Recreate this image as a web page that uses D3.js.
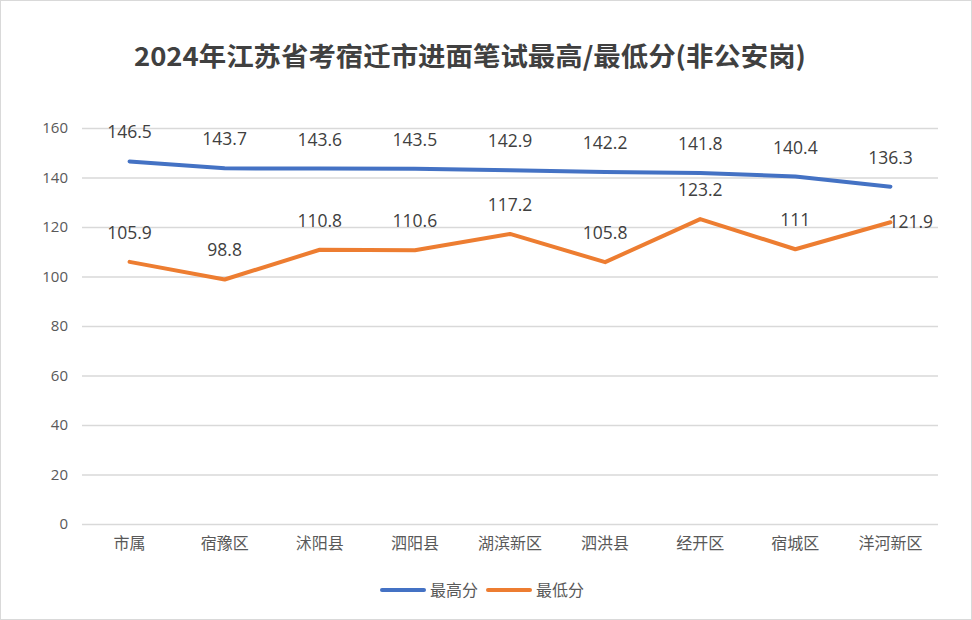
<!DOCTYPE html>
<html>
<head>
<meta charset="utf-8">
<script src="https://cdn.jsdelivr.net/npm/d3@7"></script>
<style>
  body { margin: 0; background: #fff; }
  svg { display: block; }
</style>
</head>
<body>
<div id="chart"></div>
<script>
const categories = ["市属", "宿豫区", "沭阳县", "泗阳县", "湖滨新区", "泗洪县", "经开区", "宿城区", "洋河新区"];
const maxScores = [146.5, 143.7, 143.6, 143.5, 142.9, 142.2, 141.8, 140.4, 136.3];
const minScores = [105.9, 98.8, 110.8, 110.6, 117.2, 105.8, 123.2, 111, 121.9];
const yTicks = [0, 20, 40, 60, 80, 100, 120, 140, 160];

const series = [
    { name: "最高分", values: maxScores, color: "#4472C4" },
    { name: "最低分", values: minScores, color: "#ED7D31" }
];

const width = 972, height = 620;
const margin = { top: 128, right: 34, bottom: 96, left: 82 };

const svg = d3.select("#chart").append("svg")
    .attr("width", width)
    .attr("height", height);

svg.append("rect")
    .attr("x", 0.5).attr("y", 0.5)
    .attr("width", width - 1).attr("height", height - 1)
    .attr("fill", "#fff")
    .attr("stroke", "#d9d9d9");

const x = d3.scaleBand()
    .domain(categories)
    .range([margin.left, width - margin.right]);

const y = d3.scaleLinear()
    .domain([0, 160])
    .range([height - margin.bottom, margin.top]);

// ── Title ──
svg.append("text")
    .attr("x", 470)
    .attr("y", 66)
    .attr("text-anchor", "middle")
    .attr("font-family", "'Noto Sans CJK SC', sans-serif")
    .attr("font-weight", "bold")
    .attr("font-size", 26)
    .attr("textLength", 672)
    .attr("lengthAdjust", "spacingAndGlyphs")
    .attr("fill", "#404040")
    .text("2024年江苏省考宿迁市进面笔试最高/最低分(非公安岗)");

// ── Gridlines & y axis ──
const yAxis = d3.axisLeft(y)
    .tickValues(yTicks)
    .tickSize(-(width - margin.left - margin.right))
    .tickPadding(14);

svg.append("g")
    .attr("transform", `translate(${margin.left},0)`)
    .call(yAxis)
    .call(g => g.select(".domain").remove())
    .call(g => g.selectAll(".tick line").attr("stroke", "#d9d9d9").attr("stroke-width", 1.5))
    .call(g => g.selectAll(".tick text")
        .attr("fill", "#595959")
        .attr("font-family", "'Open Sans', 'Noto Sans', sans-serif")
        .attr("font-size", 15));

// ── x axis labels ──
const xAxis = d3.axisBottom(x).tickSize(0).tickPadding(14);
svg.append("g")
    .attr("transform", `translate(0,${height - margin.bottom})`)
    .call(xAxis)
    .call(g => g.select(".domain").remove())
    .call(g => g.selectAll(".tick text")
        .attr("fill", "#595959")
        .attr("font-family", "'Noto Sans CJK SC', sans-serif")
        .attr("font-size", 16));

// ── Lines ──
const line = d3.line()
    .x((d, i) => x(categories[i]) + x.bandwidth() / 2)
    .y(d => y(d));

series.forEach(s => {
    svg.append("path")
        .datum(s.values)
        .attr("fill", "none")
        .attr("stroke", s.color)
        .attr("stroke-width", 4)
        .attr("stroke-linejoin", "round")
        .attr("stroke-linecap", "round")
        .attr("d", line);

    const isRight = i => s.name === "最低分" && i === categories.length - 1;

    svg.append("g")
        .selectAll("text")
        .data(s.values)
        .join("text")
        .attr("x", (d, i) => {
            const cx = x(categories[i]) + x.bandwidth() / 2;
            // last low-score label sits to the right of its point
            return isRight(i) ? cx - 2 : cx;
        })
        .attr("y", (d, i) => isRight(i) ? y(d) + 6 : y(d) - 23)
        .attr("text-anchor", (d, i) => isRight(i) ? "start" : "middle")
        .attr("font-family", "'Open Sans', 'Noto Sans', sans-serif")
        .attr("font-size", 17.5)
        .attr("fill", "#404040")
        .text(d => d);
});

// ── Legend ──
const legend = svg.append("g").attr("transform", "translate(382,590)");
series.forEach((s, i) => {
    const g = legend.append("g").attr("transform", `translate(${i * 106},0)`);
    g.append("line")
        .attr("x1", 0).attr("x2", 42)
        .attr("stroke", s.color)
        .attr("stroke-width", 4)
        .attr("stroke-linecap", "round");
    g.append("text")
        .attr("x", 48)
        .attr("y", 6)
        .attr("font-family", "'Noto Sans CJK SC', sans-serif")
        .attr("font-size", 16)
        .attr("fill", "#595959")
        .text(s.name);
});
</script>
</body>
</html>
